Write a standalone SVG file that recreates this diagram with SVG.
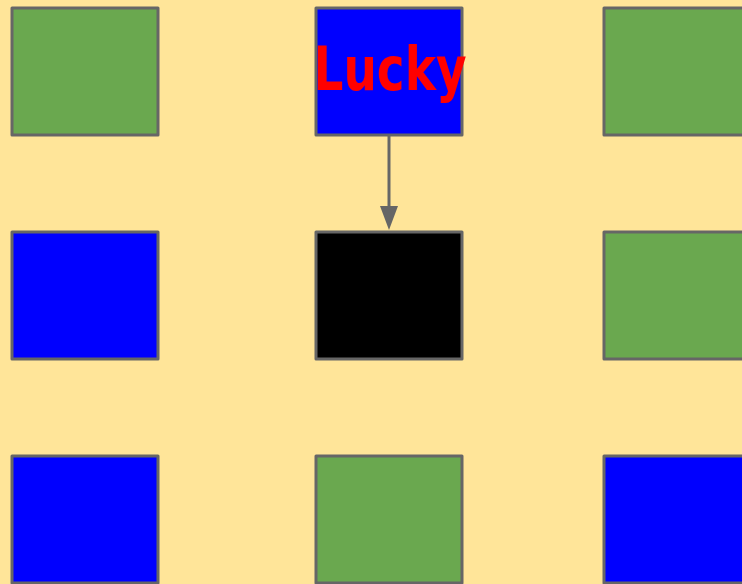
<svg xmlns="http://www.w3.org/2000/svg" width="742" height="584" viewBox="0 0 742 584">
<style>
.n{stroke:#666666;stroke-width:3;stroke-linejoin:round}
.g{fill:#6AA84F}.b{fill:#0000FF}.k{fill:#000000}
.lbl{font-family:"DejaVu Sans",sans-serif;font-weight:bold;fill:#FF0000;font-size:60px}
</style>
<defs>
<marker id="ah" markerWidth="18" markerHeight="24" refX="9" refY="24" orient="auto" markerUnits="userSpaceOnUse" viewBox="0 0 18 24">
<path d="M0,0 L18,0 L9,24 Z" fill="#666666" transform="rotate(0)"/>
</marker>
</defs>
<rect width="742" height="584" fill="#FFE599"/>
<g id="connectors">
<line x1="389" y1="136" x2="389" y2="206" stroke="#666666" stroke-width="3"/>
<path d="M380,206 L398,206 L389,230 Z" fill="#666666"/>
</g>
<g id="n11"><rect class="n g" x="12" y="8" width="146" height="127"/></g>
<g id="n12"><rect class="n b" x="316" y="8" width="146" height="127"/>
<text class="lbl" x="390" y="90" text-anchor="middle" textLength="153" lengthAdjust="spacingAndGlyphs">Lucky</text></g>
<g id="n13"><rect class="n g" x="604" y="8" width="146" height="127"/></g>
<g id="n21"><rect class="n b" x="12" y="232" width="146" height="127"/></g>
<g id="n22"><rect class="n k" x="316" y="232" width="146" height="127"/></g>
<g id="n23"><rect class="n g" x="604" y="232" width="146" height="127"/></g>
<g id="n31"><rect class="n b" x="12" y="456" width="146" height="127"/></g>
<g id="n32"><rect class="n g" x="316" y="456" width="146" height="127"/></g>
<g id="n33"><rect class="n b" x="604" y="456" width="146" height="127"/></g>
</svg>
